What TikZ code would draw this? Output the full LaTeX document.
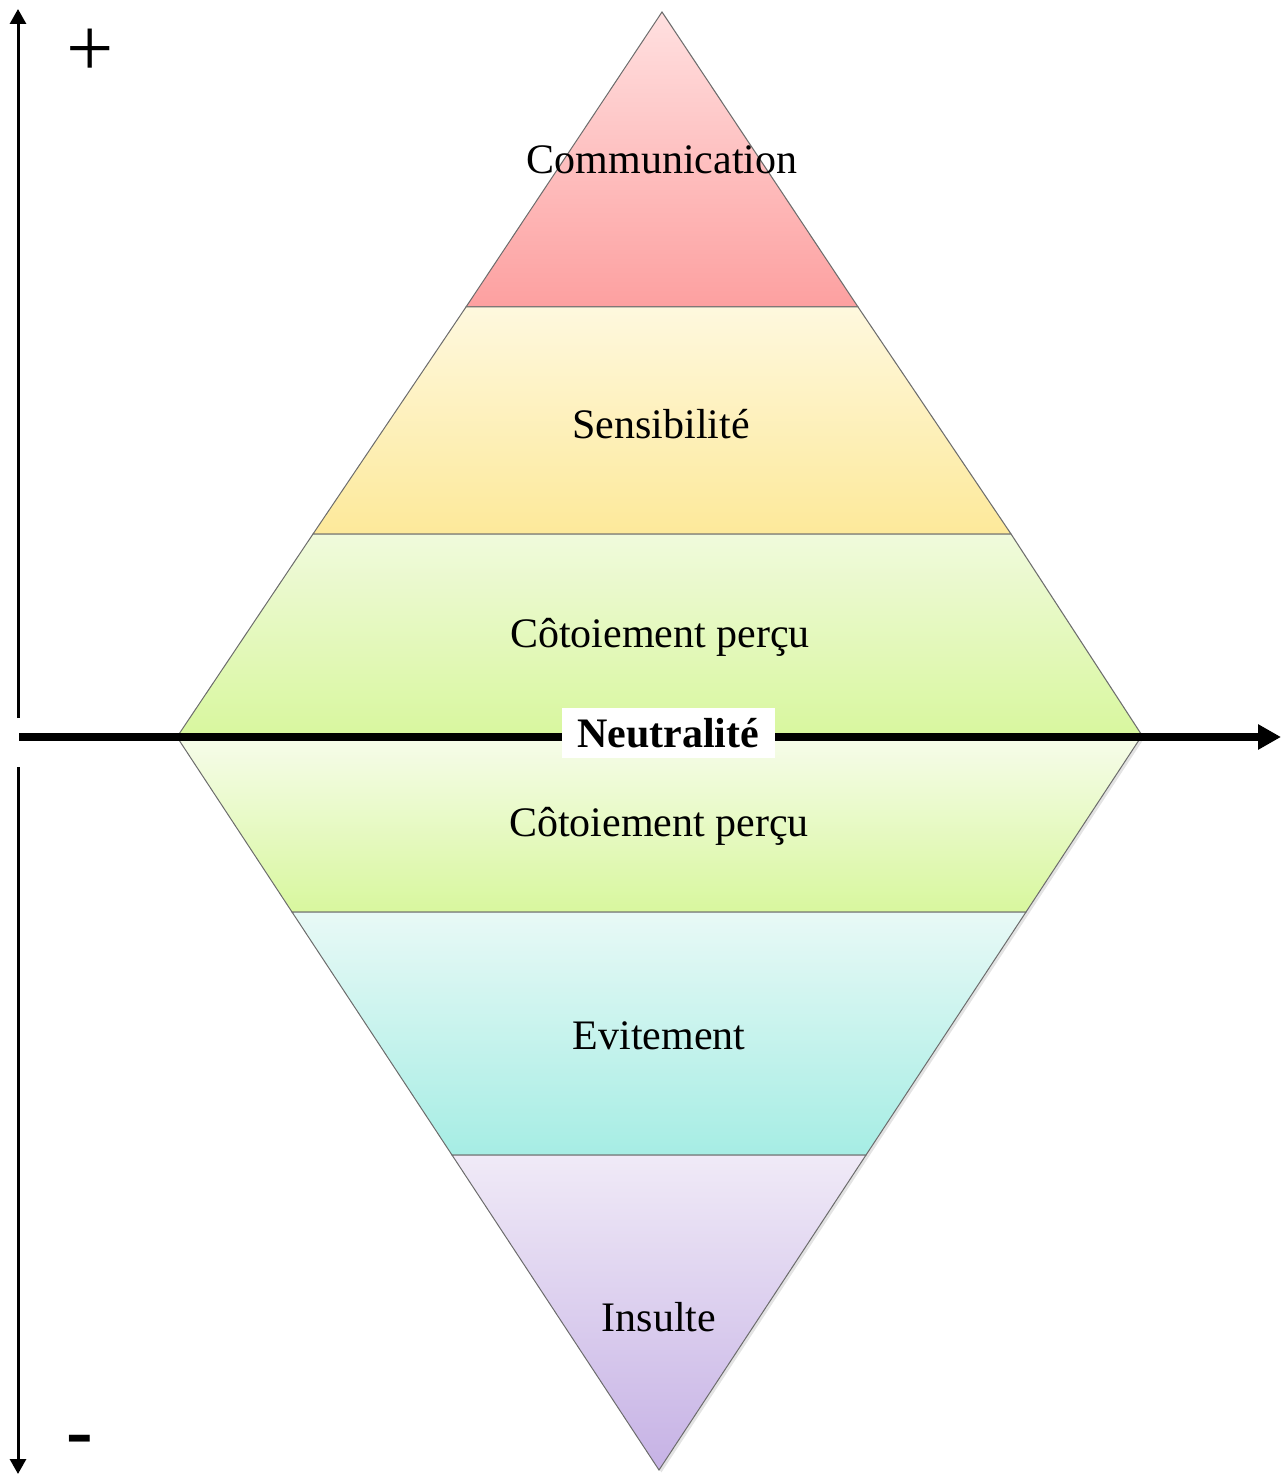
\documentclass[tikz,border=0pt]{standalone}
\usepackage{fontspec}
\setmainfont{Liberation Serif}
\usetikzlibrary{arrows.meta,shadows}
\definecolor{redT}{HTML}{FFE0E0}\definecolor{redB}{HTML}{FDA0A0}
\definecolor{yelT}{HTML}{FEF8DE}\definecolor{yelB}{HTML}{FDE99A}
\definecolor{grnT}{HTML}{F0FADC}\definecolor{grnB}{HTML}{D8F79E}
\definecolor{cyaT}{HTML}{E8F9F6}\definecolor{cyaB}{HTML}{A6EDE4}
\definecolor{vioT}{HTML}{F0EAF7}\definecolor{vioB}{HTML}{C6B2E5}
\begin{document}
\begin{tikzpicture}[x=0.5pt,y=-0.5pt,
  band/.style={draw=gray!85!black, line width=0.5pt,
    drop shadow={opacity=0.22,shadow xshift=1.2pt,shadow yshift=-1.2pt}},
  lbl/.style={font=\fontsize{21}{25}\selectfont, inner sep=0pt},
  axis/.style={line width=1.5pt, -{Triangle[length=7.5pt,width=8pt]}},
  haxis/.style={line width=4pt, -{Triangle[length=11.5pt,width=12pt]}}
]
\useasboundingbox (0,0) rectangle (1287,1475);
% upper half
\path[band, top color=redT, bottom color=redB] (662,12) -- (858,307) -- (466,307) -- cycle;
\path[band, top color=yelT, bottom color=yelB] (466,307) -- (858,307) -- (1011,534) -- (313,534) -- cycle;
\path[band, top color=grnT, bottom color=grnB] (313,534) -- (1011,534) -- (1143,737) -- (177,737) -- cycle;
% lower half
\path[band, top color=grnT!60!white, bottom color=grnB] (177,737) -- (1141,737) -- (1026,912) -- (292,912) -- cycle;
\path[band, top color=cyaT, bottom color=cyaB] (292,912) -- (1026,912) -- (866,1155) -- (452,1155) -- cycle;
\path[band, top color=vioT, bottom color=vioB] (452,1155) -- (866,1155) -- (659,1470) -- cycle;
% axes
\coordinate (vtop) at (18,9);
\coordinate (vtopstart) at (18,718);
\coordinate (vbot) at (18,1474);
\coordinate (vbotstart) at (18,767);
\coordinate (hstart) at (19,737);
\coordinate (hend) at (1281,737);
\draw[axis] (vtopstart) -- (vtop);
\draw[axis] (vbotstart) -- (vbot);
\draw[haxis] (hstart) -- (hend);
% labels
\node[lbl] (comm) at (662,160) {Communication};
\node[lbl] (sens) at (661,424) {Sensibilité};
\node[lbl] (cot1) at (660,637) {Côtoiement perçu};
\node[lbl, fill=white, font=\fontsize{21}{25}\selectfont\bfseries, minimum width=106.5pt, minimum height=25pt] (neut) at (668,733) {Neutralité};
\node[lbl] (cot2) at (659,826) {Côtoiement perçu};
\node[lbl] (evit) at (659,1036) {Evitement};
\node[lbl] (insu) at (659,1317) {Insulte};
\node[inner sep=0pt, font=\fontsize{42}{46}\selectfont] (plus) at (90,53) {+};
\node[inner sep=0pt, font=\fontsize{40}{44}\selectfont\bfseries] (minus) at (80,1446) {-};
\end{tikzpicture}
\end{document}
